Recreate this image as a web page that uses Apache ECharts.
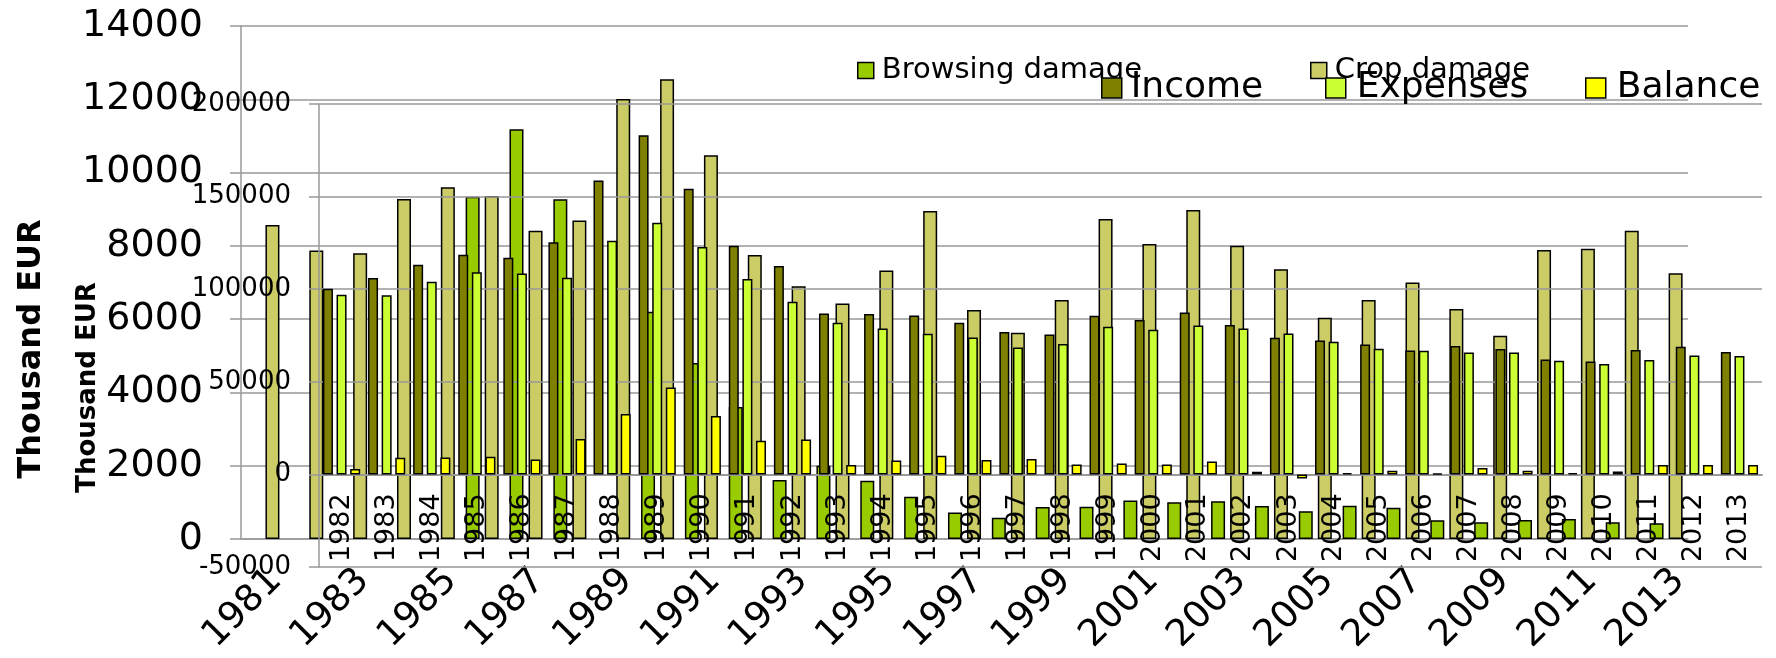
<!DOCTYPE html>
<html>
<head>
<meta charset="utf-8">
<script src="https://cdn.jsdelivr.net/npm/echarts@6/dist/echarts.min.js"></script>
<style>
  html, body { margin: 0; padding: 0; background: #ffffff; }
  #chart { width: 1776px; height: 658px; }
</style>
</head>
<body>
<div id="chart"></div>
<script>
// Game damage (thousand EUR), 1981-2013
const damageYears = ['1981','1982','1983','1984','1985','1986','1987','1988','1989','1990','1991',
  '1992','1993','1994','1995','1996','1997','1998','1999','2000','2001','2002','2003','2004','2005',
  '2006','2007','2008','2009','2010','2011','2012','2013'];
const browsingDamage = [null, null, null, null, null, 9340, 11180, 9270, null, 6200, 4800,
  3600, 1610, 2000, 1590, 1150, 720, 580, 870, 880, 1050, 1000, 1030, 900, 760,
  910, 855, 510, 455, 520, 545, 455, 430];
const cropDamage = [8570, 7870, 7800, 9280, 9600, 9360, 8410, 8690, 12010, 12550, 10470,
  7750, 6900, 6430, 7330, 8950, 6250, 5630, 6520, 8730, 8050, 8980, 8000, 7360, 6040,
  6520, 7000, 6280, 5550, 7890, 7920, 8410, 7250];

// Hunting finances (thousand EUR), 1982-2013
const financeYears = ['1982','1983','1984','1985','1986','1987','1988','1989','1990','1991','1992',
  '1993','1994','1995','1996','1997','1998','1999','2000','2001','2002','2003','2004','2005','2006',
  '2007','2008','2009','2010','2011','2012','2013'];
const income = [100300, 106000, 113200, 118600, 117000, 125400, 158760, 183060, 154220, 123450, 112480,
  86940, 86560, 85840, 81880, 76840, 75600, 85660, 83320, 87480, 80620, 73800, 72360, 70200, 66960,
  69280, 67660, 62080, 61000, 67120, 68920, 66040];
const expenses = [96980, 96800, 104000, 109100, 108500, 106200, 126150, 135860, 122740, 105460, 93200,
  81870, 78840, 75920, 73970, 68560, 70360, 79720, 78100, 80440, 78840, 76140, 71640, 67840, 66760,
  65880, 65880, 61360, 59560, 61720, 64240, 63880];
const balance = [2860, 8980, 9160, 9520, 8080, 19060, 32560, 46960, 31480, 18150, 18900,
  5020, 7540, 10060, 7720, 8260, 5380, 5920, 5380, 7000, 1440, -2160, 700, 1980, 540,
  3400, 1980, 720, 1620, 5020, 5020, 5020];

// Value axis ranges
const damageAxis = { min: 0, max: 14000, interval: 2000 };
const financeAxis = { min: -50000, max: 200000, interval: 50000 };
const axisTitle = 'Thousand EUR';

const FONT = 'DejaVu Sans';
const GRID_GREY = '#999999';
const line = { color: GRID_GREY, width: 1.5 };
const barBorder = { borderColor: '#000000', borderWidth: 1.5 };
const plain = v => String(v);

// Finance plot box; its category axis sits on the zero line
const finTop = 104, finHeight = 463;
const finZeroHeight = finHeight * financeAxis.max / (financeAxis.max - financeAxis.min);

function legendFor(name, left, top, size, fontSize, gap) {
  return {
    data: [name], left: left, top: top, padding: 0, orient: 'horizontal',
    itemWidth: size, itemHeight: size, icon: 'rect', selectedMode: false, z: 10,
    itemStyle: { borderColor: '#000000', borderWidth: 1.5 },
    textStyle: { fontFamily: FONT, fontSize: fontSize, color: '#000000', padding: [0, 0, 0, gap] }
  };
}

const chart = echarts.init(document.getElementById('chart'), null, { renderer: 'canvas' });
chart.setOption({
  animation: false,
  backgroundColor: '#ffffff',
  textStyle: { fontFamily: FONT },
  grid: [
    { left: 241, top: 26, width: 1447, height: 513 },
    { left: 319, top: finTop, width: 1443, height: finHeight },
    { left: 319, top: finTop, width: 1443, height: finZeroHeight }
  ],
  legend: [
    legendFor('Browsing damage', 857, 56, 16, 29, 3),
    legendFor('Crop damage', 1310, 56, 16, 29, 3),
    legendFor('Income', 1101, 70, 20, 36, 4),
    legendFor('Expenses', 1325, 70, 20, 36, 6),
    legendFor('Balance', 1585, 70, 20, 36, 6)
  ],
  xAxis: [
    {
      type: 'category', gridIndex: 0, data: damageYears, z: 0,
      axisLine: { lineStyle: line },
      axisTick: { length: 10, lineStyle: line },
      axisLabel: { rotate: 45, interval: 1, fontSize: 37, color: '#000000', margin: 23,
        align: 'right', verticalAlign: 'top' },
      splitLine: { show: false }
    },
    {
      type: 'category', gridIndex: 1, data: financeYears, z: 2,
      axisLine: { show: false }, axisTick: { show: false }, axisLabel: { show: false },
      splitLine: { show: false }
    },
    {
      type: 'category', gridIndex: 2, data: financeYears, z: 2,
      axisLine: { onZero: false, lineStyle: { color: GRID_GREY, width: 2 } },
      axisTick: { length: 8, lineStyle: line },
      axisLabel: { rotate: 90, interval: 0, fontSize: 27, color: '#000000', margin: 19 },
      splitLine: { show: false }
    }
  ],
  yAxis: [
    {
      type: 'value', gridIndex: 0, z: 0,
      min: damageAxis.min, max: damageAxis.max, interval: damageAxis.interval,
      axisLine: { show: true, lineStyle: line },
      axisTick: { show: true, length: 11, lineStyle: line },
      axisLabel: { fontSize: 38, color: '#000000', margin: 38, formatter: plain },
      splitLine: { show: true, lineStyle: line },
      name: axisTitle, nameLocation: 'middle', nameGap: 193,
      nameTextStyle: { fontSize: 32, fontWeight: 'bold', color: '#000000', padding: [0, 133, 0, 0] }
    },
    {
      type: 'value', gridIndex: 1, z: 2,
      min: financeAxis.min, max: financeAxis.max, interval: financeAxis.interval,
      axisLine: { show: true, lineStyle: line },
      axisTick: { show: true, length: 10, lineStyle: line },
      axisLabel: { fontSize: 26, color: '#000000', margin: 28, formatter: plain },
      splitLine: { show: true, lineStyle: line },
      name: axisTitle, nameLocation: 'middle', nameGap: 218,
      nameTextStyle: { fontSize: 26, fontWeight: 'bold', color: '#000000', padding: [0, 104, 0, 0] }
    },
    {
      type: 'value', gridIndex: 2, show: false, min: 0, max: financeAxis.max
    }
  ],
  series: [
    { name: 'Browsing damage', type: 'bar', xAxisIndex: 0, yAxisIndex: 0, z: 1,
      barWidth: 14, barGap: '36%', data: browsingDamage,
      itemStyle: Object.assign({ color: '#99cc00' }, barBorder) },
    { name: 'Crop damage', type: 'bar', xAxisIndex: 0, yAxisIndex: 0, z: 1,
      barWidth: 14, barGap: '36%', data: cropDamage,
      itemStyle: Object.assign({ color: '#cccc66' }, barBorder) },
    { name: 'Income', type: 'bar', xAxisIndex: 1, yAxisIndex: 1, z: 3,
      barWidth: 10, barGap: '36%', data: income,
      itemStyle: Object.assign({ color: '#808000' }, barBorder) },
    { name: 'Expenses', type: 'bar', xAxisIndex: 1, yAxisIndex: 1, z: 3,
      barWidth: 10, barGap: '36%', data: expenses,
      itemStyle: Object.assign({ color: '#ccff33' }, barBorder) },
    { name: 'Balance', type: 'bar', xAxisIndex: 1, yAxisIndex: 1, z: 3,
      barWidth: 10, barGap: '36%', data: balance,
      itemStyle: Object.assign({ color: '#ffff00' }, barBorder) }
  ]
});
</script>
</body>
</html>
